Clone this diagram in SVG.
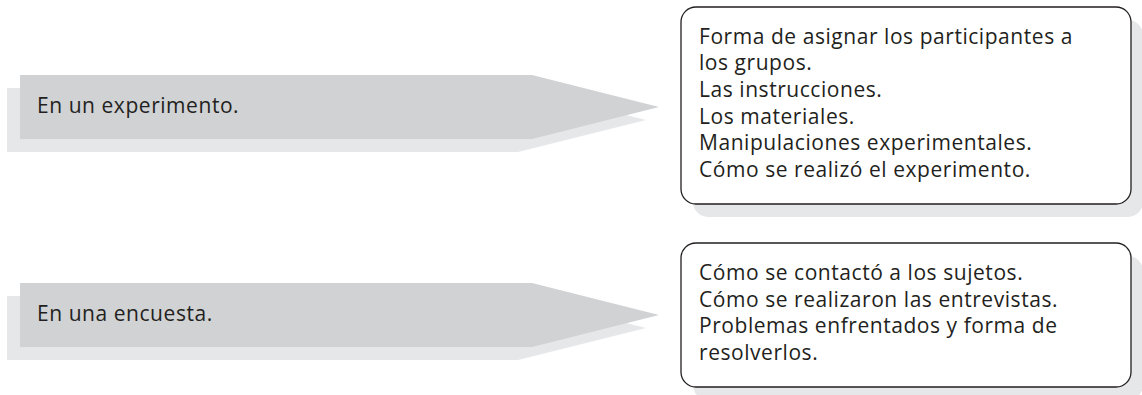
<svg xmlns="http://www.w3.org/2000/svg" width="1142" height="395" viewBox="0 0 1142 395">
<style>
.sh{fill:#e6e7e8}
.ar{fill:#d1d2d4}
.bx{fill:#ffffff;stroke:#231f20;stroke-width:1.3}
.t{font-family:"Open Sans","Noto Sans",sans-serif;font-size:21px;fill:#231f20;letter-spacing:0.55px}
</style>
<rect width="1142" height="395" fill="#ffffff"/>
<g id="arrow1">
<polygon class="sh" points="7,88 518,88 646,120 518,152 7,152"/>
<polygon class="ar" points="20,75 532,75 659,107 532,139 20,139"/>
<text class="t" x="37" y="113">En un experimento.</text>
</g>
<g id="box1">
<rect class="sh" x="693" y="20" width="450" height="197" rx="15"/>
<rect class="bx" x="681" y="7" width="450" height="197" rx="15"/>
<text class="t" x="699" y="43.5">Forma de asignar los participantes a</text>
<text class="t" x="699" y="70.2">los grupos.</text>
<text class="t" x="699" y="96.9">Las instrucciones.</text>
<text class="t" x="699" y="123.6">Los materiales.</text>
<text class="t" x="699" y="150.3">Manipulaciones experimentales.</text>
<text class="t" x="699" y="177">Cómo se realizó el experimento.</text>
</g>
<g id="arrow2">
<polygon class="sh" points="7,296 518,296 646,328 518,360 7,360"/>
<polygon class="ar" points="20,283 532,283 659,315 532,347 20,347"/>
<text class="t" x="37" y="321">En una encuesta.</text>
</g>
<g id="box2">
<rect class="sh" x="693" y="256" width="450" height="144" rx="15"/>
<rect class="bx" x="681" y="243" width="450" height="144" rx="15"/>
<text class="t" x="699" y="280">Cómo se contactó a los sujetos.</text>
<text class="t" x="699" y="306.7">Cómo se realizaron las entrevistas.</text>
<text class="t" x="699" y="333.4">Problemas enfrentados y forma de</text>
<text class="t" x="699" y="360">resolverlos.</text>
</g>
<g id="connectors"></g>
</svg>
